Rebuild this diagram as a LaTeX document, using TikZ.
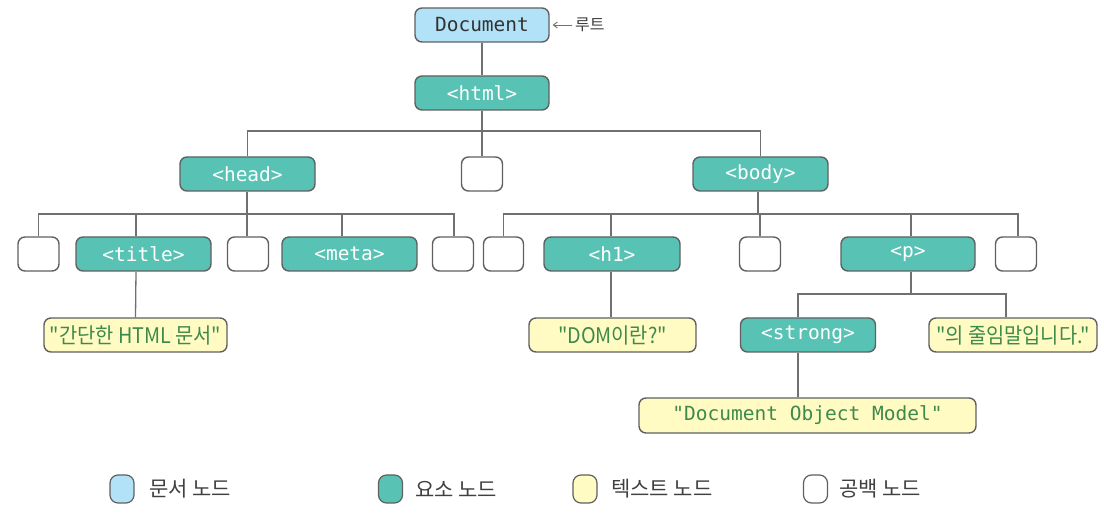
\documentclass[tikz,border=0pt]{standalone}
\usepackage{fontspec}
\setmonofont{DejaVu Sans Mono}
\newfontfamily\kr{Noto Sans CJK KR}
\newfontfamily\krc[FakeStretch=0.92]{Noto Sans CJK KR}
\usetikzlibrary{arrows.meta}
\definecolor{docfill}{HTML}{B1E2F7}
\definecolor{elfill}{HTML}{58C3B4}
\definecolor{txfill}{HTML}{FFFBC3}
\definecolor{bord}{HTML}{606060}
\definecolor{lnk}{HTML}{707070}
\definecolor{txgreen}{HTML}{3E8A4C}
\begin{document}
\begin{tikzpicture}[x=1pt,y=-1pt,
  box/.style={draw=bord,line width=1.4pt,rounded corners=7pt,minimum height=34pt,inner sep=0pt},
  docnode/.style={box,fill=docfill,minimum width=134pt,font=\ttfamily\fontsize{19.5}{21}\selectfont,text=black!80},
  elnode/.style={box,fill=elfill,minimum width=135pt,font=\ttfamily\fontsize{19.5}{21}\selectfont,text=white},
  blanknode/.style={box,fill=white,minimum width=41pt},
  txnode/.style={box,fill=txfill,text=txgreen,font=\krc\fontsize{21.5}{23}\selectfont},
  txmono/.style={box,fill=txfill,text=txgreen,font=\ttfamily\fontsize{19.5}{21}\selectfont},
  lgbox/.style={draw=bord,line width=1.2pt,rounded corners=8pt,minimum width=24pt,minimum height=28pt,inner sep=0pt},
  lgtext/.style={anchor=west,inner sep=0pt,font=\kr\fontsize{21}{23}\selectfont,text=black!75},
  link/.style={draw=lnk,line width=1.3pt}]
\useasboundingbox (0,0) rectangle (1104,518);
% level 0,1
\node[docnode] (doc) at (482,25) {Document};
\node[lgtext,font=\kr\fontsize{16}{18}\selectfont] (root) at (575,25) {루트};
\node[elnode,minimum width=134pt] (html) at (482,93) {<html>};
% level 2
\node[elnode] (head) at (247.5,174) {<head>};
\node[blanknode] (m) at (482,174) {};
\node[elnode] (body) at (760.5,174) {<body>};
% level 3
\node[blanknode] (b1) at (38.5,254) {};
\node[elnode] (title) at (143.5,254) {<title>};
\node[blanknode] (b2) at (248,254) {};
\node[elnode] (meta) at (349.5,254) {<meta>};
\node[blanknode] (b3) at (453,254) {};
\node[blanknode,minimum width=40pt] (b4) at (503.5,254) {};
\node[elnode,minimum width=136pt] (h1) at (612,254) {<h1>};
\node[blanknode] (b5) at (760,254) {};
\node[elnode,minimum width=134pt] (p) at (908,254) {<p>};
\node[blanknode] (b6) at (1016,254) {};
% level 4
\node[txnode,minimum width=183pt] (t1) at (135.5,335) {"간단한 HTML 문서"};
\node[txnode,minimum width=167pt] (t2) at (612.5,335) {"DOM이란?"};
\node[elnode] (strong) at (808,335) {<strong>};
\node[txnode,minimum width=168pt] (t3) at (1013,335) {"의 줄임말입니다."};
% level 5
\node[txmono,minimum width=337pt,minimum height=35pt] (t4) at (807.5,415.5) {"Document Object Model"};
% bars
\coordinate (bar1) at (0,131);
\coordinate (bar2) at (0,214);
\coordinate (bar3) at (0,294);
% connectors
\draw[link] (doc.south) -- (html.north);
\foreach \c in {head,m,body}
  \draw[link] (html.south) -- (html.south |- bar1) -| (\c.north);
\foreach \c/\dx in {b1/0,title/-7.5,b2/-1,meta/-7.5,b3/1}
  \draw[link] ([xshift=-0.5pt]head.south) -- ([xshift=-0.5pt]head.south |- bar2) -| ([xshift=\dx pt]\c.north);
\foreach \c/\dx in {b4/0,h1/-1,b5/0,p/3,b6/2}
  \draw[link] ([xshift=-2.5pt]body.south) -- ([xshift=-2.5pt]body.south |- bar2) -| ([xshift=\dx pt]\c.north);
\draw[link] ([xshift=-7.5pt]title.south) -- (t1.north);
\draw[link] ([xshift=-1pt]h1.south) -- ([xshift=-1.5pt]t2.north);
\foreach \c/\dx in {strong/-10,t3/-7}
  \draw[link] ([xshift=3pt]p.south) -- ([xshift=3pt]p.south |- bar3) -| ([xshift=\dx pt]\c.north);
\draw[link] ([xshift=-10pt]strong.south) -- ([xshift=-9.5pt]t4.north);
\draw[draw=lnk,line width=0.9pt,-{Straight Barb[length=4pt,width=6pt]}] ([xshift=-3pt]root.west) -- ([xshift=3pt]doc.east);
% legend
\node[lgbox,fill=docfill] (l1) at (122,489) {};
\node[lgtext] (l1t) at (149,489) {문서 노드};
\node[lgbox,fill=elfill] (l2) at (390.5,489) {};
\node[lgtext] (l2t) at (415,489) {요소 노드};
\node[lgbox,fill=txfill] (l3) at (585,489) {};
\node[lgtext] (l3t) at (611,489) {텍스트 노드};
\node[lgbox,fill=white] (l4) at (815.5,489) {};
\node[lgtext] (l4t) at (839,489) {공백 노드};
\end{tikzpicture}
\end{document}
